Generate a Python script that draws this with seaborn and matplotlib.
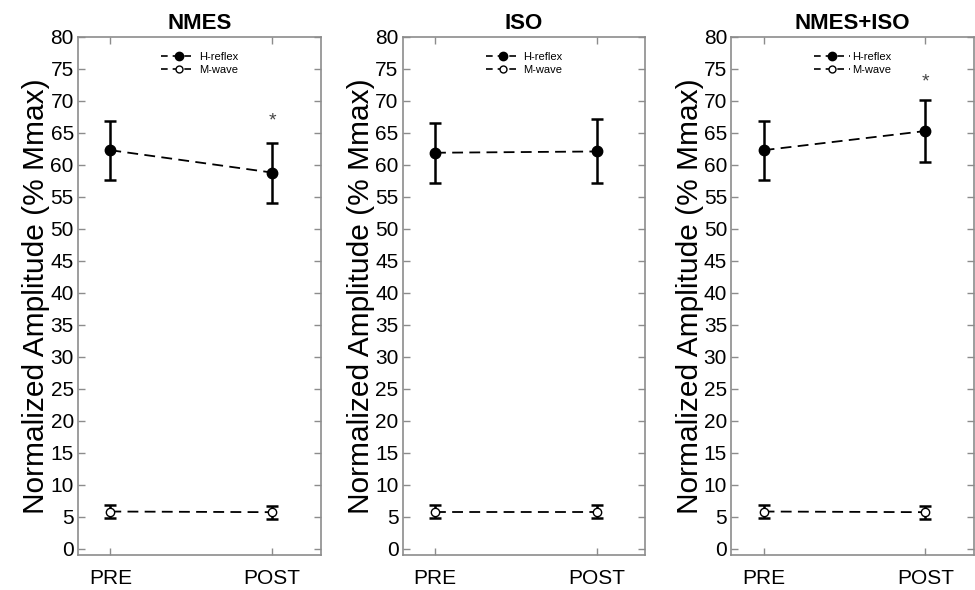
import pandas as pd
import seaborn as sns
import matplotlib.pyplot as plt
from matplotlib.lines import Line2D

# data
panels = ['NMES', 'ISO', 'NMES+ISO']
times = ['PRE', 'POST']
h_mean = {'NMES': [62.3, 58.8], 'ISO': [61.9, 62.1], 'NMES+ISO': [62.3, 65.3]}
h_err = {'NMES': [4.6, 4.7], 'ISO': [4.7, 5.0], 'NMES+ISO': [4.6, 4.8]}
m_mean = {'NMES': [5.8, 5.7], 'ISO': [5.8, 5.8], 'NMES+ISO': [5.8, 5.7]}
m_err = {'NMES': [1.0, 1.0], 'ISO': [1.0, 1.0], 'NMES+ISO': [1.0, 1.0]}
star_y = {'NMES': 66.9, 'ISO': None, 'NMES+ISO': 73.0}

sns.set_theme(style='ticks')
plt.rcParams['font.family'] = ['Liberation Sans', 'DejaVu Sans']
plt.rcParams['text.color'] = 'black'
plt.rcParams['xtick.labelcolor'] = 'black'
plt.rcParams['ytick.labelcolor'] = 'black'
plt.rcParams['axes.labelcolor'] = 'black'

fig = plt.figure(figsize=(9.75, 5.9), dpi=100)
lefts = [0.080, 0.413, 0.750]
gray = '#8c8c8c'
dash = (0, (6, 3.5))

for name, left in zip(panels, lefts):
    ax = fig.add_axes([left, 0.0593, 0.249, 0.878])
    df = pd.DataFrame({
        'x': [1, 2, 1, 2],
        'y': h_mean[name] + m_mean[name],
        'series': ['H-reflex', 'H-reflex', 'M-wave', 'M-wave'],
    })
    for s, face in [('H-reflex', 'black'), ('M-wave', 'white')]:
        sub = df[df['series'] == s]
        err = h_err[name] if s == 'H-reflex' else m_err[name]
        ax.errorbar(sub['x'], sub['y'], yerr=err, fmt='none', ecolor='black',
                    elinewidth=1.8, capsize=4, capthick=1.8, zorder=2)
        sns.lineplot(data=sub, x='x', y='y', ax=ax, color='black', linewidth=1.3,
                     linestyle=dash, marker='o', markersize=7.5 if s == 'H-reflex' else 6,
                     markerfacecolor=face, markeredgecolor='black', markeredgewidth=1.0,
                     zorder=3, legend=False)
    if star_y[name] is not None:
        ax.text(2, star_y[name], '*', ha='center', va='center', fontsize=14, color='#444444')

    ax.set_xlim(0.8, 2.3)
    ax.set_ylim(-1, 80)
    ax.set_xticks([1, 2])
    ax.set_xticklabels(times)
    ax.set_yticks(range(0, 81, 5))
    ax.set_xlabel('')
    ax.set_ylabel('Normalized Amplitude (% Mmax)', fontsize=21.5, labelpad=0)
    ax.set_title(name, fontsize=16, fontweight='bold', pad=6)
    ax.tick_params(direction='in', length=5, width=1, color=gray, top=True, right=True,
                   labelsize=15, pad=3)
    ax.tick_params(axis='x', pad=10)
    for sp in ax.spines.values():
        sp.set_color(gray)
        sp.set_linewidth(1.2)

    handles = [
        Line2D([], [], color='black', linestyle=(0, (4, 3)), linewidth=1.2, marker='o',
               markersize=6, markerfacecolor='black', markeredgecolor='black'),
        Line2D([], [], color='black', linestyle=(0, (4, 3)), linewidth=1.2, marker='o',
               markersize=5, markerfacecolor='white', markeredgecolor='black'),
    ]
    ax.legend(handles, ['H-reflex', 'M-wave'], loc='upper center', bbox_to_anchor=(0.5, 0.99),
              frameon=False, fontsize=8, handlelength=3.2, handletextpad=0.2,
              labelspacing=0.25)

fig.savefig('out.png', dpi=100)
